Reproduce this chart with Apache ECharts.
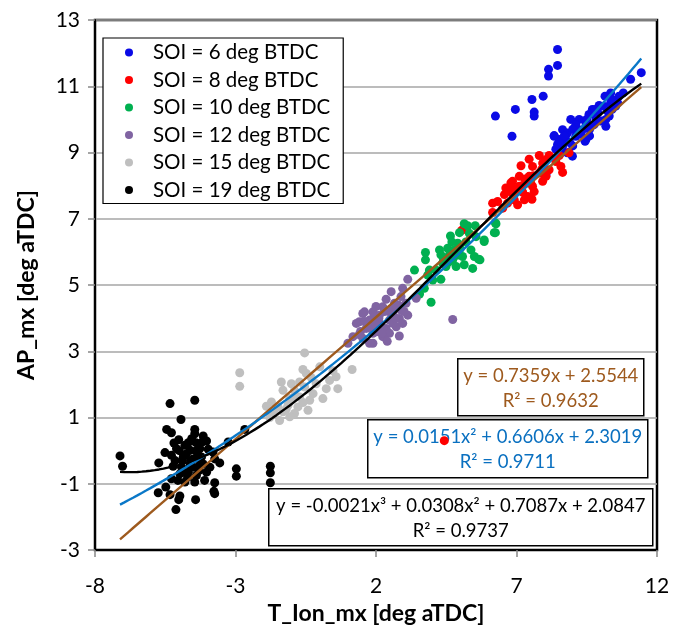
<!DOCTYPE html>
<html>
<head>
<meta charset="utf-8">
<script src="https://cdn.jsdelivr.net/npm/echarts@6/dist/echarts.min.js"></script>
<style>
html,body{margin:0;padding:0;background:#fff;}
#chart{width:673px;height:630px;}
</style>
</head>
<body>
<div id="chart"></div>
<script>
// ---------- data ----------
const seriesNames = ['SOI = 6 deg BTDC','SOI = 8 deg BTDC','SOI = 10 deg BTDC','SOI = 12 deg BTDC','SOI = 15 deg BTDC','SOI = 19 deg BTDC'];
const xTicks = [-8,-3,2,7,12];
const yTicks = [-3,-1,1,3,5,7,9,11,13];

const soi6 = [[8.46,12.11],[8.46,11.63],[8.14,11.51],[8.14,11.31],[7.95,10.70],[7.55,10.60],[6.96,10.30],[6.25,10.10],[7.63,10.22],[7.63,10.10],[6.84,9.49],[11.44,11.41],[11.06,11.21],[10.65,10.70],[10.35,10.80],[10.15,10.70],[10.35,10.50],[9.94,10.42],[10.24,10.25],[10.53,10.40],[9.58,10.15],[9.82,10.05],[10.18,10.00],[9.23,10.00],[9.47,9.89],[9.76,9.84],[10.18,9.79],[8.93,10.00],[9.11,9.79],[9.35,9.69],[8.64,9.69],[8.81,9.59],[9.11,9.49],[9.44,9.34],[8.34,9.49],[8.52,9.39],[8.76,9.39],[8.46,9.24],[8.87,8.99],[8.99,8.89],[8.64,9.19],[8.34,9.51],[8.52,9.31],[8.05,8.33],[9.47,9.39],[9.11,9.84],[8.81,8.99],[9.60,9.70],[9.90,10.20],[10.00,9.95],[8.70,9.50],[9.30,9.55],[9.00,9.70],[9.70,10.30],[10.40,10.60],[8.40,9.10],[9.20,9.60],[9.50,10.00],[9.80,10.30],[10.10,10.40],[10.40,10.30],[10.60,10.50],[8.90,9.30],[9.60,9.50],[10.30,10.10],[10.80,10.80],[8.60,9.00],[9.00,9.20]];
const soi8 = [[7.81,8.91],[7.45,8.80],[8.16,8.91],[8.52,8.91],[7.16,8.60],[7.57,8.58],[7.93,8.68],[8.58,8.58],[8.87,8.99],[8.64,8.40],[7.81,8.38],[8.16,8.48],[7.45,8.28],[7.93,8.13],[6.80,8.08],[7.10,7.98],[6.62,7.93],[7.57,7.98],[6.86,7.77],[7.22,7.80],[7.63,7.82],[6.57,7.73],[6.92,7.57],[7.28,7.57],[7.55,7.59],[6.33,7.52],[6.68,7.47],[7.04,7.42],[6.51,7.32],[6.15,7.19],[6.86,8.13],[7.34,8.08],[7.10,8.28],[6.74,7.83],[7.40,7.67],[8.05,8.28],[8.40,8.73],[8.05,8.78],[6.15,7.47],[5.05,6.65],[7.00,7.90],[7.30,8.20],[7.60,8.30],[7.90,8.50],[7.20,8.00],[6.90,7.90],[7.50,8.10],[4.43,0.30]];
const soi10 = [[5.14,6.85],[5.26,6.79],[5.53,6.79],[4.97,6.58],[5.32,6.56],[5.56,6.46],[5.85,6.31],[6.27,6.85],[6.21,6.58],[4.65,6.48],[4.26,6.06],[4.55,6.11],[4.79,6.06],[4.31,5.91],[4.73,5.76],[5.08,5.86],[5.38,6.06],[5.50,5.86],[5.65,5.78],[5.14,5.61],[5.44,5.50],[4.85,5.56],[3.76,5.98],[3.76,5.76],[3.37,5.45],[3.90,5.45],[4.14,5.45],[3.84,5.30],[4.31,5.17],[4.02,5.15],[4.49,5.56],[3.72,4.90],[3.55,4.73],[3.96,4.48],[4.37,5.66],[4.61,5.91],[4.91,6.26],[6.25,6.87],[5.85,6.36],[6.25,6.58],[5.70,5.76],[4.60,5.70],[4.90,5.90],[4.40,5.80],[5.00,6.10],[4.70,6.30],[5.20,6.30]];
const soi12 = [[3.13,5.17],[2.54,4.80],[2.95,4.90],[2.89,4.65],[3.43,4.60],[2.36,4.57],[2.66,4.45],[3.07,4.45],[2.24,4.34],[1.59,4.19],[1.89,4.19],[2.12,4.09],[2.48,4.19],[2.89,4.24],[3.13,4.09],[1.41,3.89],[1.77,3.94],[2.12,3.84],[2.48,3.94],[2.83,3.99],[4.73,3.96],[1.65,3.69],[2.01,3.59],[2.36,3.69],[2.72,3.74],[2.83,3.46],[2.48,3.54],[1.53,4.14],[1.30,3.84],[1.71,3.84],[2.60,4.14],[1.89,3.54],[2.24,3.69],[2.60,3.84],[1.89,3.24],[1.00,3.24],[1.18,3.44],[1.53,3.39],[2.95,3.84],[2.24,3.44],[1.77,3.24],[2.00,4.35],[2.70,4.00],[1.45,3.60],[2.10,4.00],[1.80,3.75],[1.60,3.90],[2.30,4.20],[2.60,4.30],[2.00,3.80],[1.40,3.50],[2.80,4.40],[3.00,4.20],[2.40,3.30],[1.90,4.00],[2.20,3.55]];
const soi15 = [[-0.54,2.95],[-2.85,2.35],[-2.85,1.94],[1.15,2.45],[-0.60,2.45],[-0.48,2.33],[0.47,2.41],[0.58,2.23],[0.00,2.53],[0.35,2.12],[0.64,1.87],[0.23,1.87],[-0.13,2.02],[-0.72,2.07],[-1.01,2.02],[-1.37,2.07],[-1.31,1.82],[-0.90,1.82],[-0.54,1.92],[-0.24,1.72],[0.11,1.57],[-0.36,1.52],[-0.72,1.62],[-1.07,1.57],[-1.72,1.47],[-1.90,1.34],[-1.49,1.32],[-1.13,1.37],[-0.78,1.32],[-1.31,1.17],[-0.90,1.12],[-1.43,0.91],[-0.42,1.22],[-1.07,1.02],[-1.61,1.12],[-1.78,1.00],[-0.30,2.20],[-0.95,1.60],[-0.60,1.45],[-1.20,1.25]];
const soi19 = [[-5.33,1.42],[-4.45,1.52],[-4.94,0.94],[-5.45,0.64],[-4.45,0.64],[-4.45,0.51],[-5.28,0.54],[-5.02,0.33],[-4.15,0.44],[-4.03,0.29],[-5.19,0.23],[-4.68,0.24],[-4.41,0.24],[-5.10,0.06],[-5.51,-0.06],[-5.28,-0.14],[-4.62,0.01],[-4.27,0.06],[-3.97,0.04],[-7.11,-0.16],[-7.02,-0.47],[-5.73,-0.37],[-4.86,-0.19],[-4.51,-0.25],[-4.21,-0.19],[-3.74,-0.25],[-3.56,-0.37],[-5.22,-0.47],[-4.92,-0.50],[-4.62,-0.45],[-4.27,-0.43],[-3.91,-0.50],[-4.98,-0.70],[-4.68,-0.65],[-4.39,-0.75],[-4.03,-0.65],[-2.97,-0.55],[-2.97,-0.77],[-1.76,-0.47],[-1.76,-0.67],[-1.76,-0.97],[-5.28,-0.85],[-4.80,-0.95],[-4.45,-0.95],[-3.74,-0.97],[-5.48,-1.10],[-5.75,-1.27],[-5.33,-1.33],[-4.98,-1.37],[-5.02,-1.48],[-3.77,-1.23],[-3.74,-1.30],[-4.42,-1.48],[-5.12,-1.78],[-3.26,0.26],[-2.67,0.64],[-4.56,0.36],[-4.80,0.16],[-3.80,-0.04],[-4.60,-0.30],[-4.35,-0.10],[-4.90,-0.30],[-4.10,-0.90],[-5.05,-0.90],[-4.70,-0.80],[-4.20,0.25],[-4.50,-0.50],[-4.75,-0.10],[-4.30,-0.60],[-5.00,0.00],[-4.40,0.00],[-4.85,-0.65],[-4.15,-0.40],[-5.15,-0.30]];

// trendline coefficients (highest power first), as printed on the chart
const linCoef = [0.7359, 2.5544];
const poly2Coef = [0.0151, 0.6606, 2.3019];
const poly3Coef = [-0.0021, 0.0308, 0.7087, 2.0847];
const linText = 'y = 0.7359x + 2.5544\nR² = 0.9632';
const poly2Text = 'y = 0.0151x² + 0.6606x + 2.3019\nR² = 0.9711';
const poly3Text = 'y = -0.0021x³ + 0.0308x² + 0.7087x + 2.0847\nR² = 0.9737';

// ---------- build ----------
const allData = [soi6, soi8, soi10, soi12, soi15, soi19];
const colors = ['#0A0AE6','#FF0000','#00B050','#8064A2','#BFBFBF','#000000'];
let xmin = Infinity, xmax = -Infinity;
allData.forEach(d => d.forEach(p => { xmin = Math.min(xmin, p[0]); xmax = Math.max(xmax, p[0]); }));
function polyVal(c, x){ let v = 0; c.forEach(k => { v = v * x + k; }); return v; }
function trend(c){ const out = []; const n = 120; for (let i = 0; i <= n; i++){ const x = xmin + (xmax - xmin) * i / n; out.push([x, polyVal(c, x)]); } return out; }

const FONT = 'Lato, "Open Sans", sans-serif';
const series = allData.map((d, i) => ({
  name: seriesNames[i], type: 'scatter', data: d, symbolSize: 9, z: 3,
  itemStyle: { color: colors[i], opacity: 1 }
}));
const trendColors = ['#9E5A1E', '#0A78C8', '#000000'];
[linCoef, poly2Coef, poly3Coef].forEach((c, i) => {
  series.push({ type: 'line', data: trend(c), showSymbol: false, silent: true, z: 4,
    lineStyle: { color: trendColors[i], width: 2.4 } });
});

function eqBox(left, top, w, h, text, color){
  return { type: 'group', left: left, top: top, z: 1, children: [
    { type: 'rect', z: 1, shape: { x: 0, y: 0, width: w, height: h }, style: { fill: '#fff', stroke: '#000', lineWidth: 1.5 } },
    { type: 'text', z: 1, x: w / 2, y: h / 2 + 1, style: { text: text, fill: color, fontSize: 18.5, fontFamily: FONT, align: 'center', verticalAlign: 'middle', lineHeight: 25 } }
  ]};
}

const chart = echarts.init(document.getElementById('chart'), null, { renderer: 'canvas' });
chart.setOption({
  animation: false,
  backgroundColor: '#fff',
  grid: { left: 95, right: 16, top: 20, bottom: 80, show: true, borderColor: '#000', borderWidth: 2.5, backgroundColor: 'transparent' },
  legend: {
    data: seriesNames, orient: 'vertical', left: 103, top: 38,
    icon: 'circle', itemWidth: 8, itemHeight: 8, itemGap: 6.5,
    backgroundColor: '#fff', borderColor: '#000', borderWidth: 1.2, borderRadius: 0,
    padding: [4, 13, 3, 22],
    textStyle: { fontSize: 20.5, fontFamily: FONT, color: '#000', lineHeight: 20, padding: [0, 0, 0, 15] }
  },
  xAxis: {
    type: 'value', min: -8, max: 12,
    name: 'T_Ion_mx [deg aTDC]', nameLocation: 'middle', nameGap: 52,
    nameTextStyle: { fontSize: 23, fontWeight: 'bold', fontFamily: FONT, color: '#000' },
    axisLine: { onZero: false, lineStyle: { color: '#000', width: 2 } },
    axisTick: { show: true, inside: false, length: 7, customValues: xTicks, lineStyle: { color: '#888', width: 1.5 } },
    axisLabel: { customValues: xTicks, margin: 26, fontSize: 21, fontFamily: FONT, color: '#000' },
    splitLine: { show: false }
  },
  yAxis: {
    type: 'value', min: -3, max: 13,
    name: 'AP_mx [deg aTDC]', nameLocation: 'middle', nameGap: 57,
    nameTextStyle: { fontSize: 23, fontWeight: 'bold', fontFamily: FONT, color: '#000' },
    axisLine: { show: true, onZero: false, lineStyle: { color: '#000', width: 2 } },
    axisTick: { show: true, inside: false, length: 7, customValues: yTicks, lineStyle: { color: '#888', width: 1.5 } },
    axisLabel: { customValues: yTicks, margin: 15, fontSize: 21, fontFamily: FONT, color: '#000' },
    splitLine: { show: true, lineStyle: { color: '#A6A6A6', width: 1.5 } }
  },
  graphic: [
    eqBox(457, 358, 186, 57, linText, '#9E5A1E'),
    eqBox(367, 419, 280, 58, poly2Text, '#0A70C0'),
    eqBox(268, 488, 384, 57, poly3Text, '#000')
  ],
  series: series
});
</script>
</body>
</html>
